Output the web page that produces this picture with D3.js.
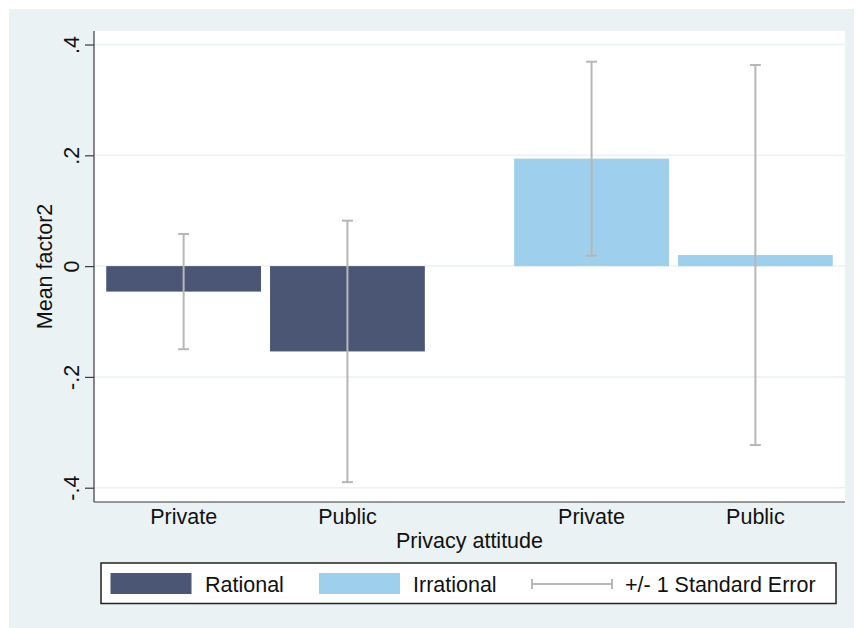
<!DOCTYPE html>
<html>
<head>
<meta charset="utf-8">
<script src="https://cdn.jsdelivr.net/npm/d3@7"></script>
<style>
  html, body { margin: 0; padding: 0; background: #ffffff; }
  svg { display: block; font-family: "Liberation Sans", Arial, Helvetica, sans-serif; }
</style>
</head>
<body>
<svg id="chart" width="856" height="628"></svg>
<script>
// Mean of factor2 by privacy attitude, split by decision type
const groups = ["Rational", "Irrational"];
const categories = ["Private", "Public"];
const rationalMeans = [-0.046, -0.154];
const irrationalMeans = [0.194, 0.020];
const rationalSE = [0.104, 0.236];
const irrationalSE = [0.175, 0.343];
const yTicks = [0.4, 0.2, 0, -0.2, -0.4];
const yTickLabels = [".4", ".2", "0", "-.2", "-.4"];
const legendLabels = ["Rational", "Irrational", "+/- 1 Standard Error"];

const colors = { Rational: "#4b5674", Irrational: "#9ecfec" };
const errColor = "#b7b7b7";
const bgColor = "#eaf2f3";
const fontSize = 21.5;

const rows = [];
groups.forEach(g => {
  const means = g === "Rational" ? rationalMeans : irrationalMeans;
  const ses = g === "Rational" ? rationalSE : irrationalSE;
  categories.forEach((c, i) => rows.push({ group: g, cat: c, mean: means[i], se: ses[i] }));
});

const svg = d3.select("#chart");

// outer background
svg.append("rect").attr("x", 9).attr("y", 9).attr("width", 845).attr("height", 619).attr("fill", bgColor);

const plot = { left: 94, right: 845, top: 31, bottom: 502 };
svg.append("rect")
  .attr("x", plot.left).attr("y", plot.top)
  .attr("width", plot.right - plot.left).attr("height", plot.bottom - plot.top)
  .attr("fill", "#ffffff");

const y = d3.scaleLinear().domain([-0.4258, 0.4244]).range([plot.bottom, plot.top]);
const xGroup = d3.scaleBand().domain(groups).range([plot.left, plot.right]).paddingInner(0.219).paddingOuter(0.03);
const xCat = d3.scaleBand().domain(categories).range([0, xGroup.bandwidth()]).paddingInner(0.055).paddingOuter(0);

// gridlines
svg.append("g").selectAll("line").data(yTicks).join("line")
  .attr("x1", plot.left).attr("x2", plot.right)
  .attr("y1", d => y(d)).attr("y2", d => y(d))
  .attr("stroke", bgColor).attr("stroke-width", 1.5);

// bars
svg.append("g").selectAll("rect").data(rows).join("rect")
  .attr("x", d => xGroup(d.group) + xCat(d.cat))
  .attr("width", xCat.bandwidth())
  .attr("y", d => y(Math.max(0, d.mean)))
  .attr("height", d => Math.abs(y(d.mean) - y(0)))
  .attr("fill", d => colors[d.group]);

// error bars
const cap = 5.5;
const eb = svg.append("g").attr("stroke", errColor).attr("stroke-width", 2).attr("fill", "none");
rows.forEach(d => {
  const cx = xGroup(d.group) + xCat(d.cat) + xCat.bandwidth() / 2;
  const y1 = y(d.mean + d.se), y2 = y(d.mean - d.se);
  eb.append("line").attr("x1", cx).attr("x2", cx).attr("y1", y1).attr("y2", y2);
  eb.append("line").attr("x1", cx - cap).attr("x2", cx + cap).attr("y1", y1).attr("y2", y1);
  eb.append("line").attr("x1", cx - cap).attr("x2", cx + cap).attr("y1", y2).attr("y2", y2);
});

// y axis
const yAxis = d3.axisLeft(y).tickValues(yTicks).tickSize(9).tickPadding(0).tickFormat("");
const yg = svg.append("g").attr("transform", `translate(${plot.left},0)`).call(yAxis);
yg.select(".domain").attr("stroke", "#3a3a3a").attr("stroke-width", 1.2).attr("d", `M0,${plot.top}V${plot.bottom}`);
yg.selectAll(".tick line").attr("stroke", "#3a3a3a").attr("stroke-width", 1.2);
yg.selectAll(".tick").append("text")
  .attr("transform", "translate(-23,0) rotate(-90)")
  .attr("text-anchor", "middle").attr("dy", "0.35em")
  .attr("fill", "#111").attr("font-size", fontSize)
  .text((d, i) => yTickLabels[i]);

// x axis baseline
svg.append("line")
  .attr("x1", plot.left).attr("x2", plot.right)
  .attr("y1", plot.bottom).attr("y2", plot.bottom)
  .attr("stroke", "#3a3a3a").attr("stroke-width", 1.2);

// category labels
svg.append("g").selectAll("text").data(rows).join("text")
  .attr("x", d => xGroup(d.group) + xCat(d.cat) + xCat.bandwidth() / 2)
  .attr("y", 516).attr("dy", "0.35em")
  .attr("text-anchor", "middle").attr("font-size", fontSize).attr("fill", "#111")
  .text(d => d.cat);

// axis titles
svg.append("text").attr("x", (plot.left + plot.right) / 2).attr("y", 540).attr("dy", "0.35em")
  .attr("text-anchor", "middle").attr("font-size", fontSize).attr("fill", "#111")
  .text("Privacy attitude");
svg.append("text").attr("transform", `translate(44,${(plot.top + plot.bottom) / 2}) rotate(-90)`)
  .attr("dy", "0.35em").attr("text-anchor", "middle").attr("font-size", fontSize).attr("fill", "#111")
  .text("Mean factor2");

// legend
const lg = svg.append("g");
lg.append("rect").attr("x", 101).attr("y", 563).attr("width", 735).attr("height", 40.5)
  .attr("fill", "#fff").attr("stroke", "#222").attr("stroke-width", 1.5);
const swatchY = 573, swatchH = 21;
lg.append("rect").attr("x", 110.5).attr("y", swatchY).attr("width", 81).attr("height", swatchH).attr("fill", colors.Rational);
lg.append("text").attr("x", 205).attr("y", 584).attr("dy", "0.35em").attr("font-size", fontSize).attr("fill", "#111").text(legendLabels[0]);
lg.append("rect").attr("x", 319).attr("y", swatchY).attr("width", 81).attr("height", swatchH).attr("fill", colors.Irrational);
lg.append("text").attr("x", 413).attr("y", 584).attr("dy", "0.35em").attr("font-size", fontSize).attr("fill", "#111").text(legendLabels[1]);
const le = lg.append("g").attr("stroke", errColor).attr("stroke-width", 2);
le.append("line").attr("x1", 532).attr("x2", 612).attr("y1", 584).attr("y2", 584);
le.append("line").attr("x1", 532).attr("x2", 532).attr("y1", 579).attr("y2", 589);
le.append("line").attr("x1", 612).attr("x2", 612).attr("y1", 579).attr("y2", 589);
lg.append("text").attr("x", 625).attr("y", 584).attr("dy", "0.35em").attr("font-size", fontSize).attr("fill", "#111").text(legendLabels[2]);
</script>
</body>
</html>
